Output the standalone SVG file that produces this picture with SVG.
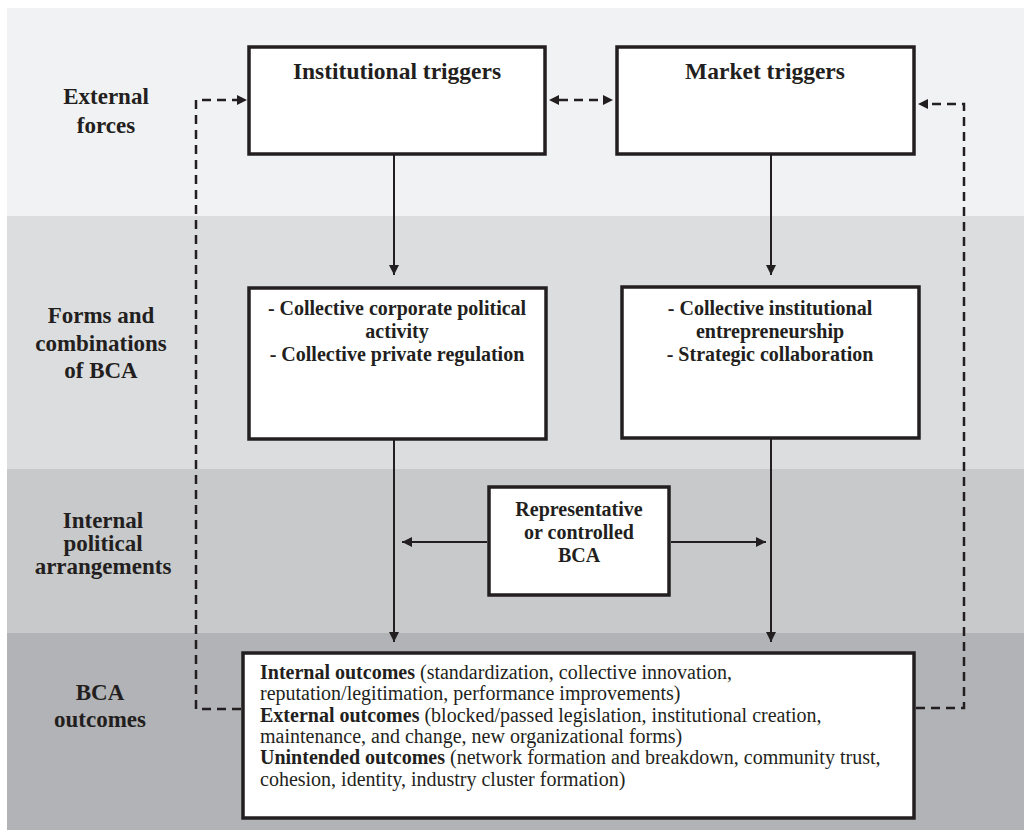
<svg xmlns="http://www.w3.org/2000/svg" width="1024" height="830" viewBox="0 0 1024 830">
<defs>
<style>
.lbl{font-family:"Liberation Serif","Times New Roman",serif;font-weight:bold;font-size:23px;fill:#231f20;text-anchor:middle}
.bx{fill:#fff;stroke:#231f20;stroke-width:3.5}
.bt{font-family:"Liberation Serif","Times New Roman",serif;font-weight:bold;font-size:20px;fill:#231f20;text-anchor:middle}
.ht{font-family:"Liberation Serif","Times New Roman",serif;font-weight:bold;font-size:23.5px;fill:#231f20;text-anchor:middle}
.ot{font-family:"Liberation Serif","Times New Roman",serif;font-size:20px;fill:#231f20}
.sol{fill:none;stroke:#231f20;stroke-width:2}
.dsh{fill:none;stroke:#231f20;stroke-width:2.5;stroke-dasharray:9 6}
</style>
<marker id="ah" viewBox="0 0 10 10" refX="10" refY="5" markerWidth="10" markerHeight="10" markerUnits="userSpaceOnUse" orient="auto-start-reverse">
<path d="M0,0 L10,5 L0,10 z" fill="#231f20"/>
</marker>
</defs>
<g id="bands">
<rect x="0" y="0" width="1024" height="830" fill="#fff"/>
<rect x="7" y="8" width="1017" height="208" fill="#f1f2f3"/>
<rect x="7" y="216" width="1017" height="253" fill="#dcdddf"/>
<rect x="7" y="469" width="1017" height="164" fill="#c8c9cb"/>
<rect x="7" y="633" width="1017" height="197" fill="#b2b3b6"/>
</g>
<g id="labels">
<text class="lbl" x="106" y="104">External</text>
<text class="lbl" x="106" y="133">forces</text>
<text class="lbl" x="101" y="323">Forms and</text>
<text class="lbl" x="101" y="351">combinations</text>
<text class="lbl" x="101" y="378">of BCA</text>
<text class="lbl" x="103" y="528">Internal</text>
<text class="lbl" x="103" y="551">political</text>
<text class="lbl" x="103" y="574">arrangements</text>
<text class="lbl" x="100" y="700">BCA</text>
<text class="lbl" x="100" y="727">outcomes</text>
</g>
<g id="connectors">
<path class="dsh" d="M241,709 L196,709 L196,100 L237,100" />
<path d="M237,95 L247,100 L237,105 z" fill="#231f20"/>
<path class="dsh" d="M916,708 L964,708 L964,104 L928,104" />
<path d="M928,99 L918,104 L928,109 z" fill="#231f20"/>
<path class="dsh" d="M559,100 L603,100" />
<path d="M559,95 L549,100 L559,105 z" fill="#231f20"/>
<path d="M603,95 L613,100 L603,105 z" fill="#231f20"/>
<line class="sol" x1="394" y1="155" x2="394" y2="275" marker-end="url(#ah)"/>
<line class="sol" x1="771" y1="155" x2="771" y2="275" marker-end="url(#ah)"/>
<line class="sol" x1="394" y1="440" x2="394" y2="642" marker-end="url(#ah)"/>
<line class="sol" x1="771" y1="439" x2="771" y2="642" marker-end="url(#ah)"/>
<line class="sol" x1="487" y1="542" x2="402" y2="542" marker-end="url(#ah)"/>
<line class="sol" x1="671" y1="542" x2="766" y2="542" marker-end="url(#ah)"/>
</g>
<g id="institutional-triggers">
<rect class="bx" x="249" y="47" width="296" height="107"/>
<text class="ht" x="397" y="79">Institutional triggers</text>
</g>
<g id="market-triggers">
<rect class="bx" x="617" y="47" width="297" height="107"/>
<text class="ht" x="765" y="79">Market triggers</text>
</g>
<g id="forms-left">
<rect class="bx" x="249" y="288" width="297" height="151"/>
<text class="bt" x="397" y="315">- Collective corporate political</text>
<text class="bt" x="397" y="338">activity</text>
<text class="bt" x="397" y="361">- Collective private regulation</text>
</g>
<g id="forms-right">
<rect class="bx" x="622" y="287" width="297" height="151"/>
<text class="bt" x="770" y="315">- Collective institutional</text>
<text class="bt" x="770" y="338">entrepreneurship</text>
<text class="bt" x="770" y="361">- Strategic collaboration</text>
</g>
<g id="representative">
<rect class="bx" x="489" y="487" width="180" height="108"/>
<text class="bt" x="579" y="516">Representative</text>
<text class="bt" x="579" y="539">or controlled</text>
<text class="bt" x="579" y="562">BCA</text>
</g>
<g id="outcomes">
<rect class="bx" x="243" y="653" width="671" height="165"/>
<text class="ot" x="260" y="679"><tspan font-weight="bold">Internal outcomes</tspan> (standardization, collective innovation,</text>
<text class="ot" x="260" y="700">reputation/legitimation, performance improvements)</text>
<text class="ot" x="260" y="722"><tspan font-weight="bold">External outcomes</tspan> (blocked/passed legislation, institutional creation,</text>
<text class="ot" x="260" y="743">maintenance, and change, new organizational forms)</text>
<text class="ot" x="260" y="764"><tspan font-weight="bold">Unintended outcomes</tspan> (network formation and breakdown, community trust,</text>
<text class="ot" x="260" y="786">cohesion, identity, industry cluster formation)</text>
</g>
</svg>
